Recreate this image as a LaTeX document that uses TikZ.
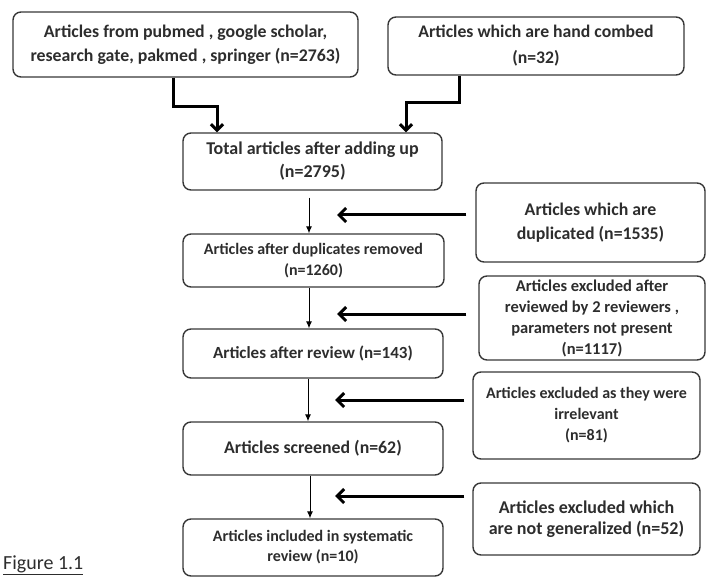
\documentclass[tikz,border=0pt]{standalone}
\usepackage{fontspec}
\setmainfont{Carlito}
\usetikzlibrary{arrows.meta, positioning}
\definecolor{boxgray}{RGB}{55, 55, 55}
\definecolor{textgray}{RGB}{45, 45, 45}

\begin{document}
\begin{tikzpicture}[x=1pt, y=-1pt,
  stage/.style={draw=boxgray, line width=1.4pt, rounded corners=8pt, align=center, text=textgray, inner sep=2pt},
  fat/.style={draw=black, line width=3pt, -{Straight Barb[length=7pt, width=14pt]}},
  slim/.style={draw=black, line width=0.9pt, -{Latex[length=7pt, width=6pt]}}]
  \useasboundingbox (0,0) rectangle (711,577);

  % Sources at the top
  \node[stage, minimum width=345pt, minimum height=65pt, font=\fontsize{17.8}{24}\selectfont\bfseries] (src) at (185.5,44.5)
    {Articles from pubmed , google scholar,\\research gate, pakmed , springer (n=2763)};
  \node[stage, minimum width=296pt, minimum height=58pt, font=\fontsize{17.7}{26}\selectfont\bfseries] (hand) at (536,46)
    {Articles which are hand combed\\(n=32)};

  % Main column
  \node[stage, minimum width=259pt, minimum height=57pt, font=\fontsize{18}{23}\selectfont\bfseries] (total) at (312.5,161.5)
    {Total articles after adding up\\(n=2795)};
  \node[stage, minimum width=261pt, minimum height=53pt, font=\fontsize{16}{21}\selectfont\bfseries] (dedup) at (313.5,260.5)
    {Articles after duplicates removed\\(n=1260)};
  \node[stage, minimum width=260pt, minimum height=49pt, font=\fontsize{17}{20}\selectfont\bfseries] (review) at (313,353.5)
    {Articles after review (n=143)};
  \node[stage, minimum width=260pt, minimum height=53pt, font=\fontsize{17.8}{20}\selectfont\bfseries] (screened) at (313,448.5)
    {Articles screened (n=62)};
  \node[stage, minimum width=260pt, minimum height=57pt, font=\fontsize{16}{20}\selectfont\bfseries] (included) at (313,547.5)
    {Articles included in systematic\\review (n=10)};

  % Exclusions on the right
  \node[stage, minimum width=229pt, minimum height=79pt, font=\fontsize{17.8}{24}\selectfont\bfseries] (dup) at (590.5,222.5)
    {Articles which are\\duplicated (n=1535)};
  \node[stage, minimum width=226pt, minimum height=84pt, font=\fontsize{16.5}{21}\selectfont\bfseries] (excl) at (592,318)
    {Articles excluded after\\reviewed by 2 reviewers ,\\parameters not present\\(n=1117)};
  \node[stage, minimum width=227pt, minimum height=87pt, font=\fontsize{16}{21}\selectfont\bfseries] (irrel) at (586.5,415.5)
    {Articles excluded as they were\\irrelevant\\(n=81)};
  \node[stage, minimum width=227pt, minimum height=72pt, font=\fontsize{18}{21}\selectfont\bfseries] (general) at (586.5,519)
    {Articles excluded  which\\are not generalized (n=52)};

  % Caption
  \node[anchor=west, inner sep=0pt, text=textgray, font=\fontsize{20}{22}\selectfont] (figlabel) at (3,565) {\underline{Figure 1.1}};

  % Merging the sources
  \draw[fat, -{Straight Barb[length=6pt, width=12pt]}] ([xshift=-12.5pt]src.south) |- ++(44,29) -- ([xshift=-95.5pt]total.north);
  \draw[fat, -{Straight Barb[length=6pt, width=12pt]}] ([xshift=-77pt]hand.south) |- ++(-53,27) -- ([xshift=93.5pt]total.north);

  % Flow down the column
  \draw[slim, shorten <=7pt] ([xshift=-3.5pt]total.south) -- ([xshift=-4.5pt]dedup.north);
  \draw[slim] ([xshift=-4.5pt]dedup.south) -- ([xshift=-4pt]review.north);
  \draw[slim] ([xshift=-5pt]review.south) -- ([xshift=-5pt]screened.north);
  \draw[slim] ([xshift=-3pt]screened.south) -- ([xshift=-3pt]included.north);

  % Pointers from the exclusions
  \coordinate (tip1) at (337,215);
  \coordinate (tip2) at (337,314);
  \coordinate (tip3) at (335,400);
  \coordinate (tip4) at (335,496);
  \draw[fat, shorten <=9pt] (dup.west |- tip1) -- (tip1);
  \draw[fat, shorten <=12pt] (excl.west |- tip2) -- (tip2);
  \draw[fat, shorten <=8pt] (irrel.west |- tip3) -- (tip3);
  \draw[fat, shorten <=8pt] (general.west |- tip4) -- (tip4);
\end{tikzpicture}
\end{document}
